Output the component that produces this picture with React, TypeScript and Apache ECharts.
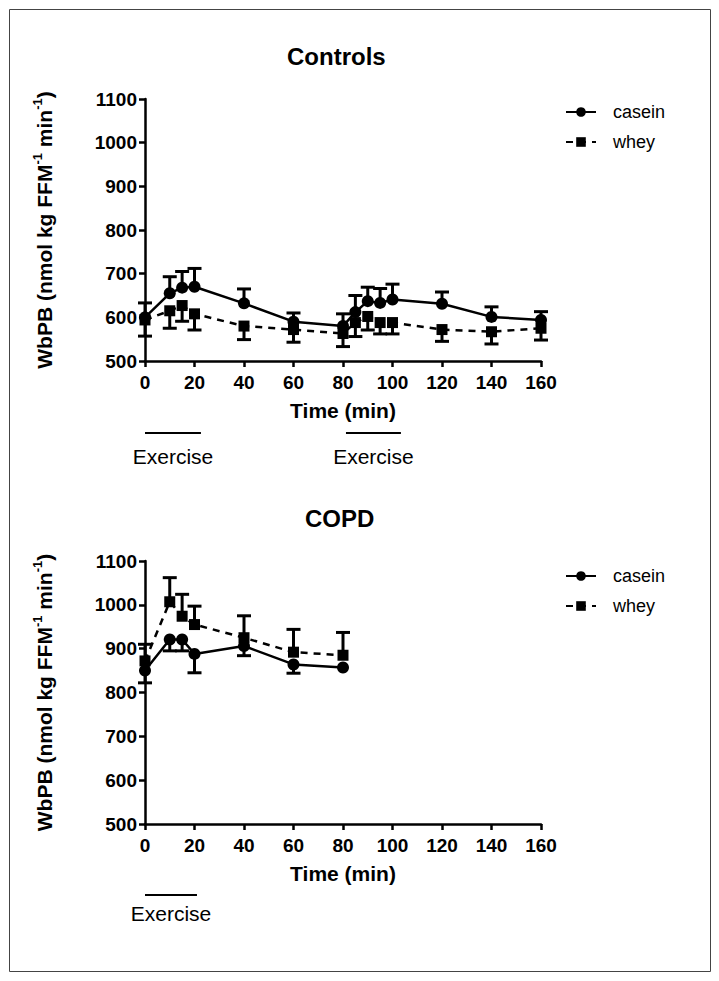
import React, { useEffect, useRef } from "react";
import * as echarts from "echarts";

const topTimes = [0, 10, 15, 20, 40, 60, 80, 85, 90, 95, 100, 120, 140, 160];
const topCasein = [600, 655, 668, 670, 632, 590, 580, 612, 637, 633, 641, 631, 601, 594];
const topCaseinErr = [33, 38, 37, 42, 33, 20, 28, 38, 32, 33, 35, 27, 23, 19];
const topWhey = [594, 615, 627, 608, 580, 572, 563, 588, 602, 588, 588, 572, 567, 575];
const topWheyErr = [37, 40, 36, 37, 31, 29, 30, 32, 31, 26, 26, 27, 28, 27];

const copdTimes = [0, 10, 15, 20, 40, 60, 80];
const copdCasein = [850, 921, 921, 888, 906, 864, 857];
const copdCaseinErr = [28, 26, 26, 43, 22, 20, 0];
const copdWhey = [872, 1007, 974, 955, 925, 892, 885];
const copdWheyErr = [38, 55, 50, 42, 50, 52, 52];

const topExercise = [[0, 22.6], [81.2, 103.4]];
const copdExercise = [[0, 21]];

const yTicks = { min: 500, max: 1100, interval: 100 };
const xTicks = { min: 0, max: 160, interval: 20 };

const FONT = "Liberation Sans, Arial, sans-serif";

function zip(xs: number[], ys: number[]) {
  return xs.map((x, i) => [x, ys[i]]);
}
function errData(xs: number[], ys: number[], es: number[], dir: number) {
  return xs.map((x, i) => [x, ys[i], es[i] * dir]);
}

function errSeries(name: string, idx: number, data: number[][]) {
  return {
    name,
    type: "custom",
    xAxisIndex: idx,
    yAxisIndex: idx,
    encode: { x: 0, y: 1 },
    z: 1,
    clip: false,
    data,
    renderItem: (params: any, api: any) => {
      const x = api.value(0);
      const y = api.value(1);
      const e = api.value(2);
      if (!e) return null;
      const p0 = api.coord([x, y]);
      const p1 = api.coord([x, y + e]);
      const hw = 7;
      const st = { stroke: "#000", lineWidth: 3 };
      return {
        type: "group",
        children: [
          { type: "line", shape: { x1: p0[0], y1: p0[1], x2: p1[0], y2: p1[1] }, style: st },
          { type: "line", shape: { x1: p1[0] - hw, y1: p1[1], x2: p1[0] + hw, y2: p1[1] }, style: st },
        ],
      };
    },
  };
}

function lineSeries(name: string, idx: number, data: number[][], dashed: boolean) {
  return {
    name,
    type: "line",
    xAxisIndex: idx,
    yAxisIndex: idx,
    data,
    z: 3,
    symbol: dashed ? "rect" : "circle",
    symbolSize: dashed ? 11 : 12,
    showSymbol: true,
    itemStyle: { color: "#000" },
    lineStyle: { color: "#000", width: 2.5, type: dashed ? [7, 6] : "solid" },
    emphasis: { disabled: true },
  };
}

function xAxis(idx: number) {
  return {
    type: "value",
    gridIndex: idx,
    ...xTicks,
    name: "Time (min)",
    nameLocation: "middle",
    nameGap: 39,
    nameTextStyle: { color: "#000", fontWeight: "bold", fontSize: 21, fontFamily: FONT },
    axisLine: { lineStyle: { color: "#000", width: 2.5 } },
    axisTick: { length: 6, lineStyle: { color: "#000", width: 2.5 } },
    axisLabel: { color: "#000", fontWeight: "bold", fontSize: 19, fontFamily: FONT, margin: 12 },
    splitLine: { show: false },
  };
}

function yAxis(idx: number) {
  return {
    type: "value",
    gridIndex: idx,
    ...yTicks,
    name: "{m|WbPB (nmol kg FFM}{s|-1}{m| min}{s|-1}{m|)}",
    nameLocation: "middle",
    nameRotate: 90,
    nameGap: 88,
    nameTextStyle: {
      rich: {
        m: { color: "#000", fontWeight: "bold", fontSize: 21, fontFamily: FONT, lineHeight: 26 },
        s: { color: "#000", fontWeight: "bold", fontSize: 13, fontFamily: FONT, verticalAlign: "top", lineHeight: 26 },
      },
    },
    axisLine: { show: true, lineStyle: { color: "#000", width: 2.5 } },
    axisTick: { show: true, length: 6, lineStyle: { color: "#000", width: 2.5 } },
    axisLabel: {
      color: "#000",
      fontWeight: "bold",
      fontSize: 19,
      fontFamily: FONT,
      margin: 8,
      formatter: (v: number) => String(v),
    },
    splitLine: { show: false },
  };
}

function legend(top: number) {
  return {
    orient: "vertical",
    left: 565,
    top,
    padding: 0,
    itemWidth: 30,
    itemHeight: 12,
    itemGap: 12,
    data: ["casein", "whey"],
    textStyle: { color: "#000", fontSize: 18, fontFamily: FONT, padding: [0, 0, 0, 12] },
    selectedMode: false,
  };
}

export default function App() {
  const ref = useRef<HTMLDivElement>(null);
  useEffect(() => {
    if (!ref.current) return;
    const chart = echarts.init(ref.current, undefined, { renderer: "svg" });
    const option: any = {
      animation: false,
      backgroundColor: "#fff",
      title: [
        { text: "Controls", left: 287, top: 44, padding: 0, textStyle: { color: "#000", fontWeight: "bold", fontSize: 24, fontFamily: FONT } },
        { text: "COPD", left: 305, top: 506, padding: 0, textStyle: { color: "#000", fontWeight: "bold", fontSize: 24, fontFamily: FONT } },
      ],
      legend: [legend(103), legend(567)],
      grid: [
        { left: 145, top: 99, width: 396, height: 262 },
        { left: 145, top: 561, width: 396, height: 263 },
      ],
      xAxis: [xAxis(0), xAxis(1)],
      yAxis: [yAxis(0), yAxis(1)],
      series: [
        lineSeries("casein", 0, zip(topTimes, topCasein), false),
        lineSeries("whey", 0, zip(topTimes, topWhey), true),
        errSeries("caseinErrTop", 0, errData(topTimes, topCasein, topCaseinErr, 1)),
        errSeries("wheyErrTop", 0, errData(topTimes, topWhey, topWheyErr, -1)),
        lineSeries("casein", 1, zip(copdTimes, copdCasein), false),
        lineSeries("whey", 1, zip(copdTimes, copdWhey), true),
        errSeries("caseinErrCopd", 1, errData(copdTimes, copdCasein, copdCaseinErr, -1)),
        errSeries("wheyErrCopd", 1, errData(copdTimes, copdWhey, copdWheyErr, 1)),
      ],
    };
    chart.setOption(option);

    const graphics: any[] = [
      {
        type: "rect",
        shape: { x: 9.5, y: 9.5, width: 701, height: 962 },
        style: { fill: "none", stroke: "#444", lineWidth: 1 },
        silent: true,
      },
    ];
    const addExercise = (idx: number, periods: number[][], lineY: number, textY: number) => {
      periods.forEach((p) => {
        const a = chart.convertToPixel({ xAxisIndex: idx }, p[0]) as number;
        const b = chart.convertToPixel({ xAxisIndex: idx }, p[1]) as number;
        graphics.push({
          type: "line",
          shape: { x1: a, y1: lineY, x2: b, y2: lineY },
          style: { stroke: "#000", lineWidth: 2 },
          silent: true,
        });
        graphics.push({
          type: "text",
          x: (a + b) / 2,
          y: textY,
          style: { text: "Exercise", fill: "#000", fontSize: 21, fontFamily: FONT, align: "center", verticalAlign: "middle" },
          silent: true,
        });
      });
    };
    addExercise(0, topExercise, 433, 456);
    addExercise(1, copdExercise, 895, 913);
    chart.setOption({ graphic: graphics });

    return () => chart.dispose();
  }, []);
  return (
    <div
      ref={ref}
      style={{ position: "fixed", left: 0, top: 0, width: 719, height: 981 }}
    />
  );
}
